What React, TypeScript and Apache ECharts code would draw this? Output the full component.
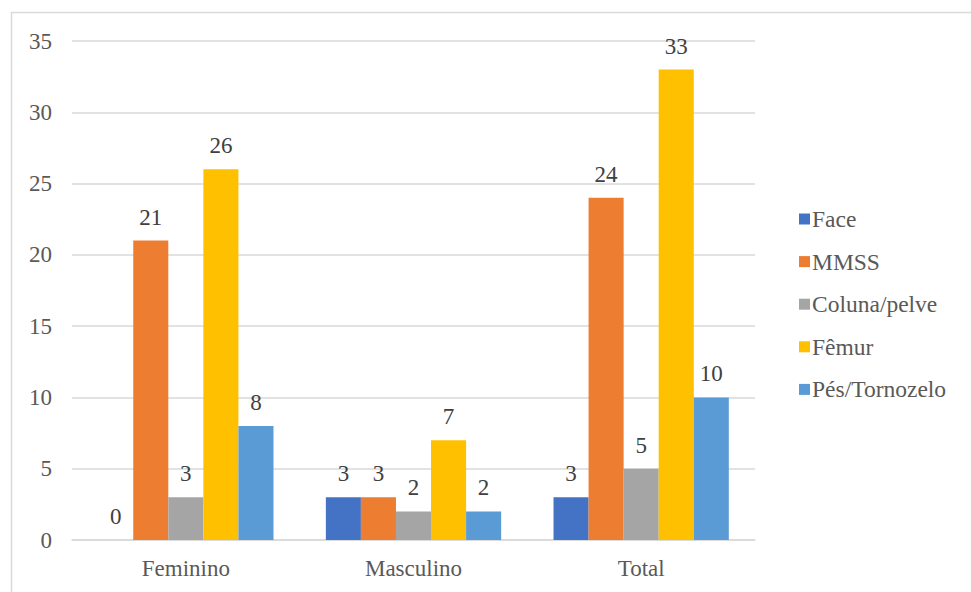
import React, { useEffect, useRef } from "react";
import * as echarts from "echarts";

const categories = ["Feminino", "Masculino", "Total"];
const seriesNames = ["Face", "MMSS", "Coluna/pelve", "Fêmur", "Pés/Tornozelo"];
const face = [0, 3, 3];
const mmss = [21, 3, 24];
const coluna = [3, 2, 5];
const femur = [26, 7, 33];
const pes = [8, 2, 10];
const colors = ["#4472C4", "#ED7D31", "#A5A5A5", "#FFC000", "#5B9BD5"];

const FONT = "Liberation Serif";
const LABEL_TEXT = "#404040";
const AXIS_TEXT = "#595959";
const SIZE = 23;

export default function App() {
  const ref = useRef<HTMLDivElement>(null);

  useEffect(() => {
    document.body.style.margin = "0";
    const chart = echarts.init(ref.current!, null, { renderer: "svg" });
    const values = [face, mmss, coluna, femur, pes];
    chart.setOption({
      animation: false,
      backgroundColor: "#ffffff",
      color: colors,
      textStyle: { fontFamily: FONT },
      graphic: [
        {
          type: "rect",
          shape: { x: 11.5, y: 12.5, width: 2000, height: 2000 },
          style: { fill: "none", stroke: "#D9D9D9", lineWidth: 1.5 },
          silent: true,
        },
      ],
      grid: { left: 72, right: 216, top: 41, bottom: 52 },
      legend: {
        orient: "vertical",
        left: 794,
        top: 202,
        itemWidth: 11,
        itemHeight: 11,
        itemGap: 18.6,
        icon: "rect",
        textStyle: {
          fontFamily: FONT,
          fontSize: 23.5,
          color: AXIS_TEXT,
          lineHeight: 20,
          padding: [0, 0, 0, -3],
        },
        data: seriesNames,
      },
      xAxis: {
        type: "category",
        data: categories,
        axisTick: { show: false },
        axisLine: { lineStyle: { color: "#D9D9D9", width: 1.5 } },
        axisLabel: { fontFamily: FONT, fontSize: SIZE, color: AXIS_TEXT, margin: 17 },
      },
      yAxis: {
        type: "value",
        min: 0,
        max: 35,
        interval: 5,
        axisLine: { show: false },
        axisTick: { show: false },
        splitLine: { lineStyle: { color: "#D9D9D9", width: 1.5 } },
        axisLabel: { fontFamily: FONT, fontSize: SIZE, color: AXIS_TEXT, margin: 20 },
      },
      series: seriesNames.map((name, i) => ({
        name,
        type: "bar",
        data: values[i],
        barGap: "0%",
        barCategoryGap: "23%",
        itemStyle: { color: colors[i] },
        label: {
          show: true,
          position: "top",
          distance: 12,
          fontFamily: FONT,
          fontSize: SIZE,
          color: LABEL_TEXT,
        },
      })),
    });
    return () => chart.dispose();
  }, []);

  return <div ref={ref} style={{ width: 971, height: 592 }} />;
}
